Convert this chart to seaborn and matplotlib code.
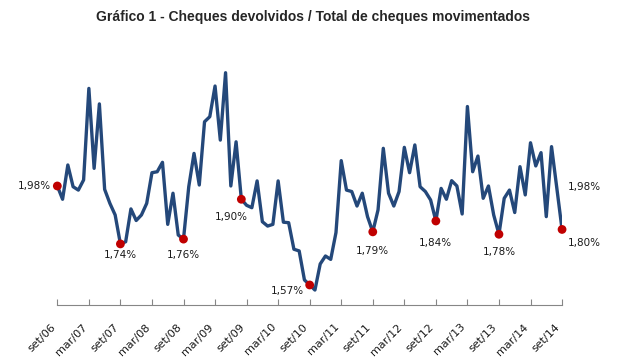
import matplotlib
matplotlib.use('Agg')
import matplotlib.pyplot as plt
import seaborn as sns
import pandas as pd

# Monthly ratio (%), set/06 .. set/14
ratio = [
    1.98, 1.925, 2.067, 1.977, 1.963, 2.005, 2.384, 2.053, 2.32, 1.966, 1.908, 1.86,   # set/06 - ago/07
    1.74, 1.749, 1.885, 1.837, 1.86, 1.908, 2.035, 2.039, 2.078, 1.821, 1.95, 1.777,  # set/07 - ago/08
    1.76, 1.977, 2.115, 1.984, 2.246, 2.267, 2.394, 2.17, 2.449, 1.98, 2.163, 1.925,  # set/08 - ago/09
    1.90, 1.89, 2.001, 1.832, 1.814, 1.821, 2.001, 1.83, 1.828, 1.718, 1.711, 1.591,  # set/09 - ago/10
    1.57, 1.549, 1.657, 1.69, 1.676, 1.787, 2.085, 1.963, 1.957, 1.897, 1.95, 1.853,  # set/10 - ago/11
    1.79, 1.881, 2.136, 1.95, 1.897, 1.957, 2.14, 2.035, 2.15, 1.977, 1.957, 1.922,   # set/11 - ago/12
    1.835, 1.97, 1.925, 2.002, 1.98, 1.864, 2.309, 2.039, 2.104, 1.929, 1.98, 1.86,   # set/12 - ago/13
    1.78, 1.929, 1.963, 1.87, 2.06, 1.943, 2.159, 2.063, 2.118, 1.853, 2.143, 1.972,  # set/13 - ago/14
    1.80,                                                                              # set/14
]
tick_labels = ['set/06', 'mar/07', 'set/07', 'mar/08', 'set/08', 'mar/09', 'set/09',
               'mar/10', 'set/10', 'mar/11', 'set/11', 'mar/12', 'set/12', 'mar/13',
               'set/13', 'mar/14', 'set/14']

# highlighted points (month index) and their labels
dot_idx = [0, 12, 24, 35, 48, 60, 72, 84, 96]
dot_labels = ['1,98%', '1,74%', '1,76%', '1,90%', '1,57%', '1,79%', '1,84%', '1,78%', '1,80%']
ref_label = '1,98%'   # start value repeated at the right end

df = pd.DataFrame({'mes': range(len(ratio)), 'ratio': ratio})
dots = df.loc[dot_idx]

sns.set_style('white')
plt.rcParams['font.family'] = ['DejaVu Sans']

fig = plt.figure(figsize=(6.19, 3.58), dpi=100)
ax = fig.add_axes([0.0926, 0.148, 0.8154, 0.6704])

sns.lineplot(data=df, x='mes', y='ratio', color='#24487A', linewidth=2.4, ax=ax)
sns.scatterplot(data=dots, x='mes', y='ratio', color='#C00000', s=40, edgecolor='none',
                zorder=3, clip_on=False, ax=ax)

# label offsets in points (dx, dy, ha)
offsets = [(-4.5, 0, 'right'), (0, -8, 'center'), (0, -11.5, 'center'), (-7, -12.5, 'center'),
           (-4, -4, 'right'), (0, -14, 'center'), (0, -15.5, 'center'), (0, -13, 'center'),
           (4, -10, 'left')]
for (i, r), lab, (dx, dy, ha) in zip(dots.iterrows(), dot_labels, offsets):
    ax.annotate(lab, (r['mes'], r['ratio']), xytext=(dx, dy), textcoords='offset points',
                ha=ha, va='center', fontsize=7.5, color='#1a1a1a')
ax.annotate(ref_label, (df['mes'].iloc[-1], ratio[0]), xytext=(4, -1), textcoords='offset points',
            ha='left', va='center', fontsize=7.5, color='#1a1a1a')

ax.set_xlim(0, len(ratio) - 1)
ax.set_ylim(1.487, 2.481)
ax.set_xticks(range(0, len(ratio), 6))
ax.set_xticklabels(tick_labels, rotation=45, ha='right', fontsize=8, color='#1a1a1a')
ax.set_yticks([])
ax.set_xlabel('')
ax.set_ylabel('')
ax.tick_params(axis='x', direction='in', length=4, width=0.8, color='#868686', pad=12,
               bottom=True)
for s in ['top', 'left', 'right']:
    ax.spines[s].set_visible(False)
ax.spines['bottom'].set_color('#868686')
ax.spines['bottom'].set_linewidth(0.8)

fig.text(0.506, 0.953, 'Gráfico 1 - Cheques devolvidos / Total de cheques movimentados',
         ha='center', va='center', fontsize=10, fontweight='bold',
         family=['Liberation Sans Narrow', 'Liberation Sans', 'DejaVu Sans'])

plt.savefig('out.png', dpi=100)
plt.close()
